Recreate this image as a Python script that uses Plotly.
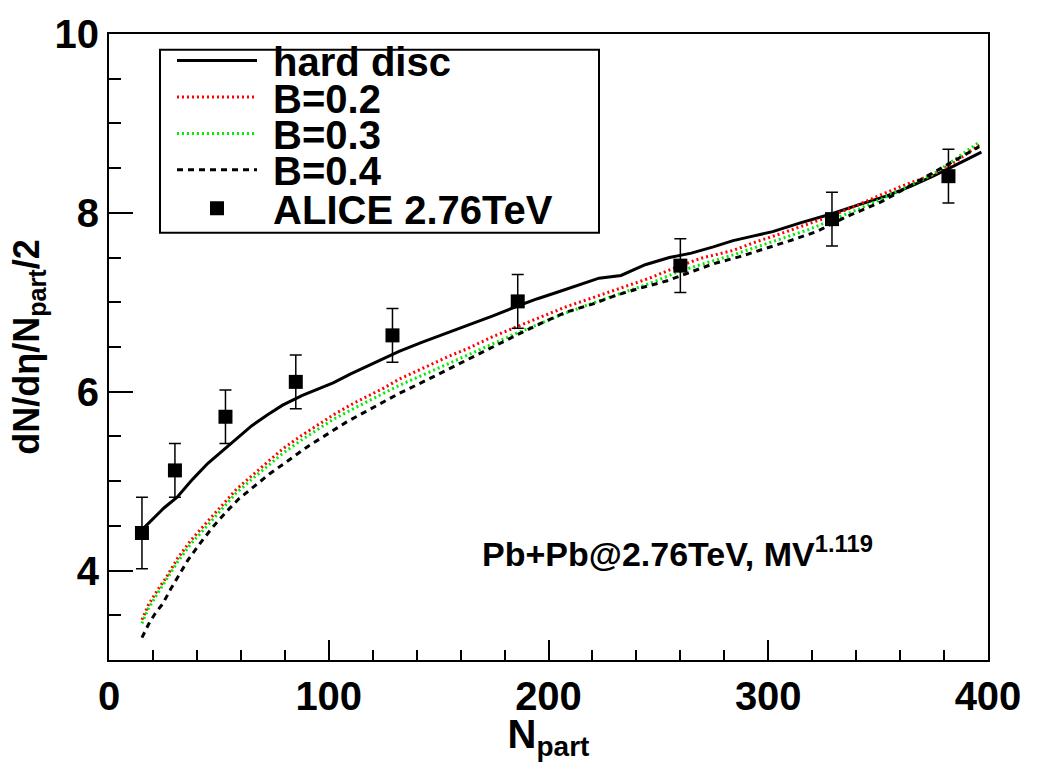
import plotly.graph_objects as go

# ---------------- data ----------------
hard_x = [16, 20, 25, 31, 38, 45, 53, 60, 65, 72, 79, 88, 95, 102, 110, 120, 132, 142, 152, 163,
          175, 185, 195, 205, 215, 223, 233, 244, 255, 265, 275, 284, 293, 302, 315, 329, 341,
          354, 365, 375, 385, 393, 397]
hard_y = [4.48, 4.58, 4.70, 4.82, 5.02, 5.20, 5.37, 5.52, 5.62, 5.74, 5.85, 5.96, 6.03, 6.10, 6.20,
          6.31, 6.45, 6.55, 6.64, 6.74, 6.85, 6.95, 7.04, 7.12, 7.20, 7.27, 7.30, 7.42, 7.50, 7.55,
          7.62, 7.69, 7.74, 7.79, 7.89, 7.99, 8.09, 8.19, 8.30, 8.41, 8.53, 8.63, 8.68]

b_x = [15, 18, 22, 26, 31, 37, 42, 46, 52, 58, 65, 72, 79, 87, 95, 102, 112, 125, 132, 145, 155,
       163, 175, 186, 197, 208, 220, 231, 246, 259, 269, 284, 295, 306, 318, 329, 341, 352, 363,
       375, 385, 396]
b02_y = [3.45, 3.62, 3.78, 3.92, 4.13, 4.33, 4.47, 4.58, 4.75, 4.91, 5.06, 5.21, 5.36, 5.50, 5.63,
         5.74, 5.88, 6.04, 6.14, 6.29, 6.40, 6.48, 6.62, 6.73, 6.84, 6.95, 7.05, 7.14, 7.27, 7.40,
         7.49, 7.58, 7.68, 7.77, 7.87, 7.97, 8.09, 8.21, 8.32, 8.43, 8.57, 8.76]
b03_y = [3.41, 3.58, 3.74, 3.89, 4.09, 4.29, 4.43, 4.54, 4.71, 4.87, 5.02, 5.17, 5.31, 5.45, 5.58,
         5.69, 5.82, 5.98, 6.07, 6.21, 6.32, 6.41, 6.54, 6.66, 6.77, 6.88, 6.99, 7.08, 7.21, 7.34,
         7.42, 7.53, 7.62, 7.71, 7.81, 7.92, 8.04, 8.16, 8.29, 8.43, 8.60, 8.79]

b04_x = [15, 18, 21, 24.5, 28, 32, 36, 41, 47, 53.5, 59, 65.5, 73, 81, 90, 99, 108, 117, 125, 132,
         147, 155, 163, 175, 186, 197, 208, 220, 231, 242, 254, 266, 275, 287, 299, 310, 322, 335,
         352, 367, 380, 396]
b04_y = [3.25, 3.40, 3.52, 3.63, 3.79, 3.96, 4.12, 4.29, 4.48, 4.66, 4.80, 4.93, 5.08, 5.22, 5.38,
         5.52, 5.66, 5.78, 5.89, 5.98, 6.16, 6.26, 6.36, 6.51, 6.64, 6.77, 6.89, 6.98, 7.08, 7.16,
         7.24, 7.35, 7.43, 7.51, 7.60, 7.69, 7.79, 7.95, 8.13, 8.34, 8.52, 8.74]

alice_x = [15, 30, 53, 85, 129, 186, 260, 329, 382]
alice_y = [4.42, 5.12, 5.72, 6.11, 6.63, 7.01, 7.41, 7.93, 8.41]
alice_err = [0.4, 0.3, 0.3, 0.3, 0.3, 0.3, 0.3, 0.3, 0.3]

names = ["hard disc", "B=0.2", "B=0.3", "B=0.4", "ALICE 2.76TeV"]

# ---------------- layout geometry (pixels) ----------------
W, H = 1039, 762
L, R, T, B = 109, 51, 27, 99
PW, PH = W - L - R, H - T - B
FONT = "Liberation Sans, Arial, sans-serif"
PAD = "\u00a0"  # small gap between legend sample and label


def px_x(p):
    return (p - L) / PW


def px_y(p):
    return 1 - (p - T) / PH


fig = go.Figure()

fig.add_trace(go.Scatter(x=hard_x, y=hard_y, mode="lines", name=PAD + names[0],
                         line=dict(color="black", width=3), legend="legend"))
fig.add_trace(go.Scatter(x=b_x, y=b02_y, mode="lines", name=PAD + names[1],
                         line=dict(color="red", width=3, dash="2px,3px"), legend="legend2"))
fig.add_trace(go.Scatter(x=b_x, y=b03_y, mode="lines", name=PAD + names[2],
                         line=dict(color="#00ee00", width=3, dash="2px,3px"), legend="legend3"))
fig.add_trace(go.Scatter(x=b04_x, y=b04_y, mode="lines", name=PAD + names[3],
                         line=dict(color="black", width=3, dash="6px,5px"), legend="legend4"))
fig.add_trace(go.Scatter(x=alice_x, y=alice_y, mode="markers", name=PAD + names[4],
                         marker=dict(symbol="square", color="black", size=14),
                         error_y=dict(type="data", array=alice_err, visible=True,
                                      color="black", thickness=1.5, width=6),
                         legend="legend5"))

leg_rows = [54, 91, 128, 165, 204]
leg_common = dict(font=dict(family=FONT, size=40, color="black", weight="bold"),
                  bgcolor="rgba(0,0,0,0)", borderwidth=0, itemwidth=80,
                  xanchor="left", yanchor="middle", x=px_x(172))
legends = {}
for i, row in enumerate(leg_rows):
    key = "legend" if i == 0 else f"legend{i + 1}"
    legends[key] = dict(leg_common, y=px_y(row))

fig.update_layout(
    width=W, height=H,
    margin=dict(l=L, r=R, t=T, b=B, pad=0),
    paper_bgcolor="white", plot_bgcolor="white",
    font=dict(family=FONT, color="black", weight="bold"),
    showlegend=True,
    **legends,
    xaxis=dict(range=[0, 400], dtick=100, tick0=0, ticks="inside", ticklen=20, tickwidth=1.5,
               tickcolor="black", showline=True, linecolor="black", linewidth=2, mirror=True,
               showgrid=False, zeroline=False,
               tickfont=dict(family=FONT, size=40, weight="bold"),
               minor=dict(dtick=20, ticks="inside", ticklen=10, tickwidth=1.5, tickcolor="black",
                          showgrid=False),
               title=dict(text="N<sub>part</sub>", standoff=4,
                          font=dict(family=FONT, size=40, weight="bold"))),
    yaxis=dict(range=[3, 10], dtick=2, tick0=0, ticks="inside", ticklen=24, tickwidth=1.5,
               tickcolor="black", showline=True, linecolor="black", linewidth=2, mirror=True,
               showgrid=False, zeroline=False,
               tickfont=dict(family=FONT, size=40, weight="bold"),
               minor=dict(dtick=0.5, ticks="inside", ticklen=12, tickwidth=1.5, tickcolor="black",
                          showgrid=False),
               title=dict(text="dN/dη/N<sub>part</sub>/2", standoff=4,
                          font=dict(family=FONT, size=36, weight="bold"))),
    shapes=[dict(type="rect", xref="paper", yref="paper",
                 x0=px_x(160), x1=px_x(599), y0=px_y(229), y1=px_y(43),
                 line=dict(color="black", width=2), fillcolor="rgba(0,0,0,0)", layer="above")],
    annotations=[dict(text="Pb+Pb@2.76TeV, MV<sup>1.119</sup>", x=px_x(480), y=px_y(553),
                      xref="paper", yref="paper", xanchor="left", yanchor="middle",
                      showarrow=False,
                      font=dict(family=FONT, size=34, color="black", weight="bold"))],
)

fig.write_html("out.html")
